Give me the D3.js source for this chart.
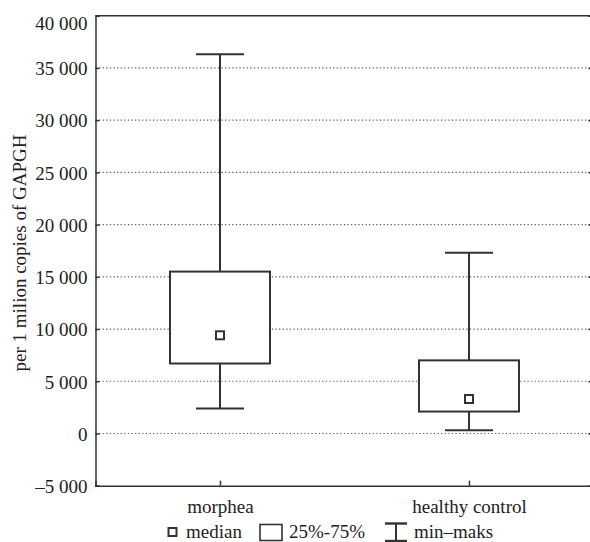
<!DOCTYPE html>
<html>
<head>
<meta charset="utf-8">
<script src="https://cdn.jsdelivr.net/npm/d3@7"></script>
<style>
  html, body { margin: 0; padding: 0; background: #fff; }
  svg { display: block; }
  text { font-family: "Liberation Serif", "Times New Roman", serif; fill: #222; }
</style>
</head>
<body>
<svg id="chart" width="590" height="542"></svg>
<script>
const categories = ["morphea", "healthy control"];
const minValues = [2400, 300];
const q1Values = [6700, 2100];
const medianValues = [9400, 3300];
const q3Values = [15500, 7000];
const maxValues = [36300, 17300];
const yTicks = [-5000, 0, 5000, 10000, 15000, 20000, 25000, 30000, 35000, 40000];
const yLabel = "per 1 milion copies of GAPGH";
const legendLabels = ["median", "25%-75%", "min\u2013maks"];

(function () {
const svg = d3.select("#chart");
const pLeft = 95.5, pRight = 593.5, pTop = 15.7, pBottom = 485.7;
const ink = "#333";

const x = d3.scalePoint().domain(categories).range([pLeft, pRight]).padding(0.5);
const y = d3.scaleLinear().domain([-5000, 40000]).range([pBottom, pTop]);

const fmt = v => {
  const s = d3.format(",")(Math.abs(v)).replace(/,/g, " ");
  return (v < 0 ? "\u2013" : "") + s;
};

// grid lines (dotted)
svg.append("g").selectAll("line")
  .data(yTicks.filter(t => t > -5000 && t < 40000))
  .join("line")
  .attr("x1", pLeft).attr("x2", pRight)
  .attr("y1", d => y(d)).attr("y2", d => y(d))
  .attr("stroke", "#555").attr("stroke-width", 1.2)
  .attr("stroke-dasharray", "1.2,2.4");

// y axis (left) with inward ticks
const yAxis = d3.axisLeft(y).tickValues(yTicks).tickSize(-4).tickPadding(8).tickFormat(fmt);
const gy = svg.append("g").attr("transform", `translate(${pLeft},0)`).call(yAxis);
gy.select(".domain").attr("stroke", ink).attr("stroke-width", 1.5);
gy.selectAll(".tick line").attr("stroke", ink).attr("stroke-width", 1.5);
gy.selectAll(".tick text").attr("font-size", 19).attr("fill", "#222")
  .attr("font-family", "Liberation Serif").attr("dy", "0.36em");
gy.selectAll(".tick").filter(d => d === 40000).select("text").attr("dy", "0.7em");

// right axis ticks
const gyr = svg.append("g").attr("transform", `translate(${pRight},0)`)
  .call(d3.axisRight(y).tickValues(yTicks).tickSize(-5).tickFormat(""));
gyr.select(".domain").attr("stroke", ink).attr("stroke-width", 1.5);
gyr.selectAll(".tick line").attr("stroke", ink).attr("stroke-width", 1.5);

// top frame
svg.append("line").attr("x1", pLeft).attr("x2", pRight).attr("y1", pTop).attr("y2", pTop)
  .attr("stroke", ink).attr("stroke-width", 1.5);

// x axis (bottom) with inward ticks
const xAxis = d3.axisBottom(x).tickSize(-5).tickPadding(14);
const gx = svg.append("g").attr("transform", `translate(0,${pBottom})`).call(xAxis);
gx.select(".domain").attr("stroke", ink).attr("stroke-width", 1.5);
gx.selectAll(".tick line").attr("stroke", ink).attr("stroke-width", 1.5);
gx.selectAll(".tick text").attr("font-size", 19).attr("fill", "#222")
  .attr("font-family", "Liberation Serif");

// y label
svg.append("text")
  .attr("transform", `translate(26,253) rotate(-90)`)
  .attr("text-anchor", "middle")
  .attr("font-size", 19)
  .text(yLabel);

// boxes
const boxW = 100, capW = 48, medS = 8;
const data = categories.map((c, i) => ({
  c, min: minValues[i], q1: q1Values[i], med: medianValues[i], q3: q3Values[i], max: maxValues[i]
}));
const g = svg.append("g").attr("stroke", ink).attr("stroke-width", 2).attr("fill", "#fff");
data.forEach(d => {
  const cx = x(d.c);
  g.append("line").attr("x1", cx).attr("x2", cx).attr("y1", y(d.max)).attr("y2", y(d.q3));
  g.append("line").attr("x1", cx).attr("x2", cx).attr("y1", y(d.q1)).attr("y2", y(d.min));
  g.append("line").attr("x1", cx - capW / 2).attr("x2", cx + capW / 2).attr("y1", y(d.max)).attr("y2", y(d.max));
  g.append("line").attr("x1", cx - capW / 2).attr("x2", cx + capW / 2).attr("y1", y(d.min)).attr("y2", y(d.min));
  g.append("rect").attr("x", cx - boxW / 2).attr("width", boxW)
    .attr("y", y(d.q3)).attr("height", y(d.q1) - y(d.q3));
  g.append("rect").attr("x", cx - medS / 2).attr("y", y(d.med) - medS / 2)
    .attr("width", medS).attr("height", medS);
});

// legend
const lg = svg.append("g");
const ly = 532;
lg.append("rect").attr("x", 168.5).attr("y", ly - 4).attr("width", 8).attr("height", 8)
  .attr("fill", "#fff").attr("stroke", ink).attr("stroke-width", 2);
lg.append("text").attr("x", 186).attr("y", ly + 6).attr("font-size", 19).text(legendLabels[0]);
lg.append("rect").attr("x", 260).attr("y", ly - 7.5).attr("width", 22).attr("height", 16)
  .attr("fill", "#fff").attr("stroke", ink).attr("stroke-width", 1.6);
lg.append("text").attr("x", 289).attr("y", ly + 6).attr("font-size", 19).text(legendLabels[1]);
const ix = 396;
lg.append("line").attr("x1", ix - 11).attr("x2", ix + 11).attr("y1", ly - 8.5).attr("y2", ly - 8.5)
  .attr("stroke", ink).attr("stroke-width", 2.4);
lg.append("line").attr("x1", ix - 11).attr("x2", ix + 11).attr("y1", ly + 9).attr("y2", ly + 9)
  .attr("stroke", ink).attr("stroke-width", 2.4);
lg.append("line").attr("x1", ix).attr("x2", ix).attr("y1", ly - 8.5).attr("y2", ly + 9)
  .attr("stroke", ink).attr("stroke-width", 2);
lg.append("text").attr("x", 414).attr("y", ly + 6).attr("font-size", 19).text(legendLabels[2]);
})();
</script>
</body>
</html>
